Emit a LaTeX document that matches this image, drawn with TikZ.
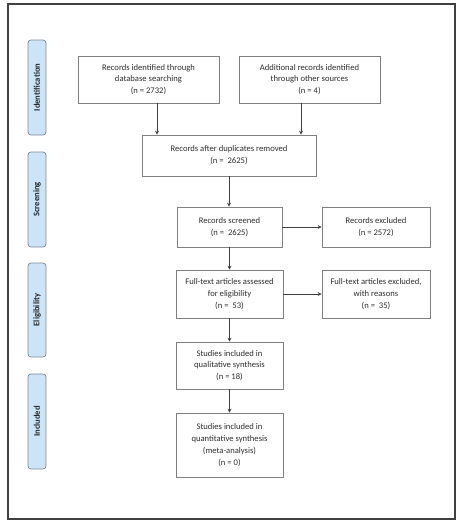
\documentclass[tikz,border=0pt]{standalone}
\usepackage{fontspec}
\setmainfont{Carlito}
\usetikzlibrary{arrows.meta}
\definecolor{lblfill}{HTML}{CCE5F6}
\definecolor{lbldraw}{HTML}{7A8896}
\definecolor{boxdraw}{HTML}{7F7F7F}
\definecolor{txt}{HTML}{2E2E2E}
\definecolor{frame}{HTML}{404040}
\tikzset{
  box/.style={draw=boxdraw, line width=0.7pt, fill=white, align=center, inner sep=1pt,
    text=txt, font=\fontsize{8.6}{11.8}\selectfont},
  phase/.style={draw=lbldraw, line width=0.7pt, fill=lblfill, rounded corners=3pt,
    rotate=90, minimum height=18pt, inner sep=0pt, text=black!85,
    font=\fontsize{8.6}{10}\selectfont\bfseries},
  arr/.style={draw=black!75, line width=0.8pt, -{Stealth[length=4pt,width=4pt]}}
}
\begin{document}
\begin{tikzpicture}[x=1pt,y=-1pt]
\useasboundingbox (0,0) rectangle (459,525);
\draw[frame, line width=1.2pt] (8,4) rectangle (455,519);

% phase labels
\node[phase, minimum width=95pt] (pid) at (37,87.5) {Identification};
\node[phase, minimum width=95pt] (psc) at (37,199.5) {Screening};
\node[phase, minimum width=94pt] (pel) at (37,310) {Eligibility};
\node[phase, minimum width=95pt] (pin) at (37,421.5) {Included};

% boxes
\node[box, minimum width=141pt, minimum height=47pt] (b1) at (148.5,79.5)
  {Records identified through\\database searching\\(n = 2732)};
\node[box, minimum width=141pt, minimum height=47pt] (b2) at (309.5,79.5)
  {Additional records identified\\through other sources\\(n = 4)};
\node[box, minimum width=174pt, minimum height=41pt] (b3) at (229,155.5)
  {Records after duplicates removed\\(n =\ \ 2625)};
\node[box, minimum width=105pt, minimum height=40pt] (b4) at (229.5,227)
  {Records screened\\(n =\ \ 2625)};
\node[box, minimum width=108pt, minimum height=40pt] (b5) at (376,227)
  {Records excluded\\(n = 2572)};
\node[box, minimum width=107pt, minimum height=48pt] (b6) at (229.5,294)
  {Full-text articles assessed\\for eligibility\\(n =\ \ 53)};
\node[box, minimum width=108pt, minimum height=48pt] (b7) at (376,294)
  {Full-text articles excluded,\\with reasons\\(n =\ \ 35)};
\node[box, minimum width=107pt, minimum height=47pt] (b8) at (229.5,365.5)
  {Studies included in\\qualitative synthesis\\(n = 18)};
\node[box, minimum width=107pt, minimum height=64pt] (b9) at (229.5,445)
  {Studies included in\\quantitative synthesis\\(meta-analysis)\\(n = 0)};

% connectors
\coordinate (c1) at ([xshift=8.5pt]b1.south);
\coordinate (c2) at ([xshift=-8.5pt]b2.south);
\draw[arr] (c1) -- (c1 |- b3.north);
\draw[arr] (c2) -- (c2 |- b3.north);
\draw[arr] (b3.south) -- (b3.south |- b4.north);
\draw[arr] (b4.east) -- (b5.west);
\draw[arr] (b4.south) -- (b4.south |- b6.north);
\draw[arr] (b6.east) -- (b7.west);
\draw[arr] (b6.south) -- (b6.south |- b8.north);
\draw[arr] (b8.south) -- (b8.south |- b9.north);
\end{tikzpicture}
\end{document}
